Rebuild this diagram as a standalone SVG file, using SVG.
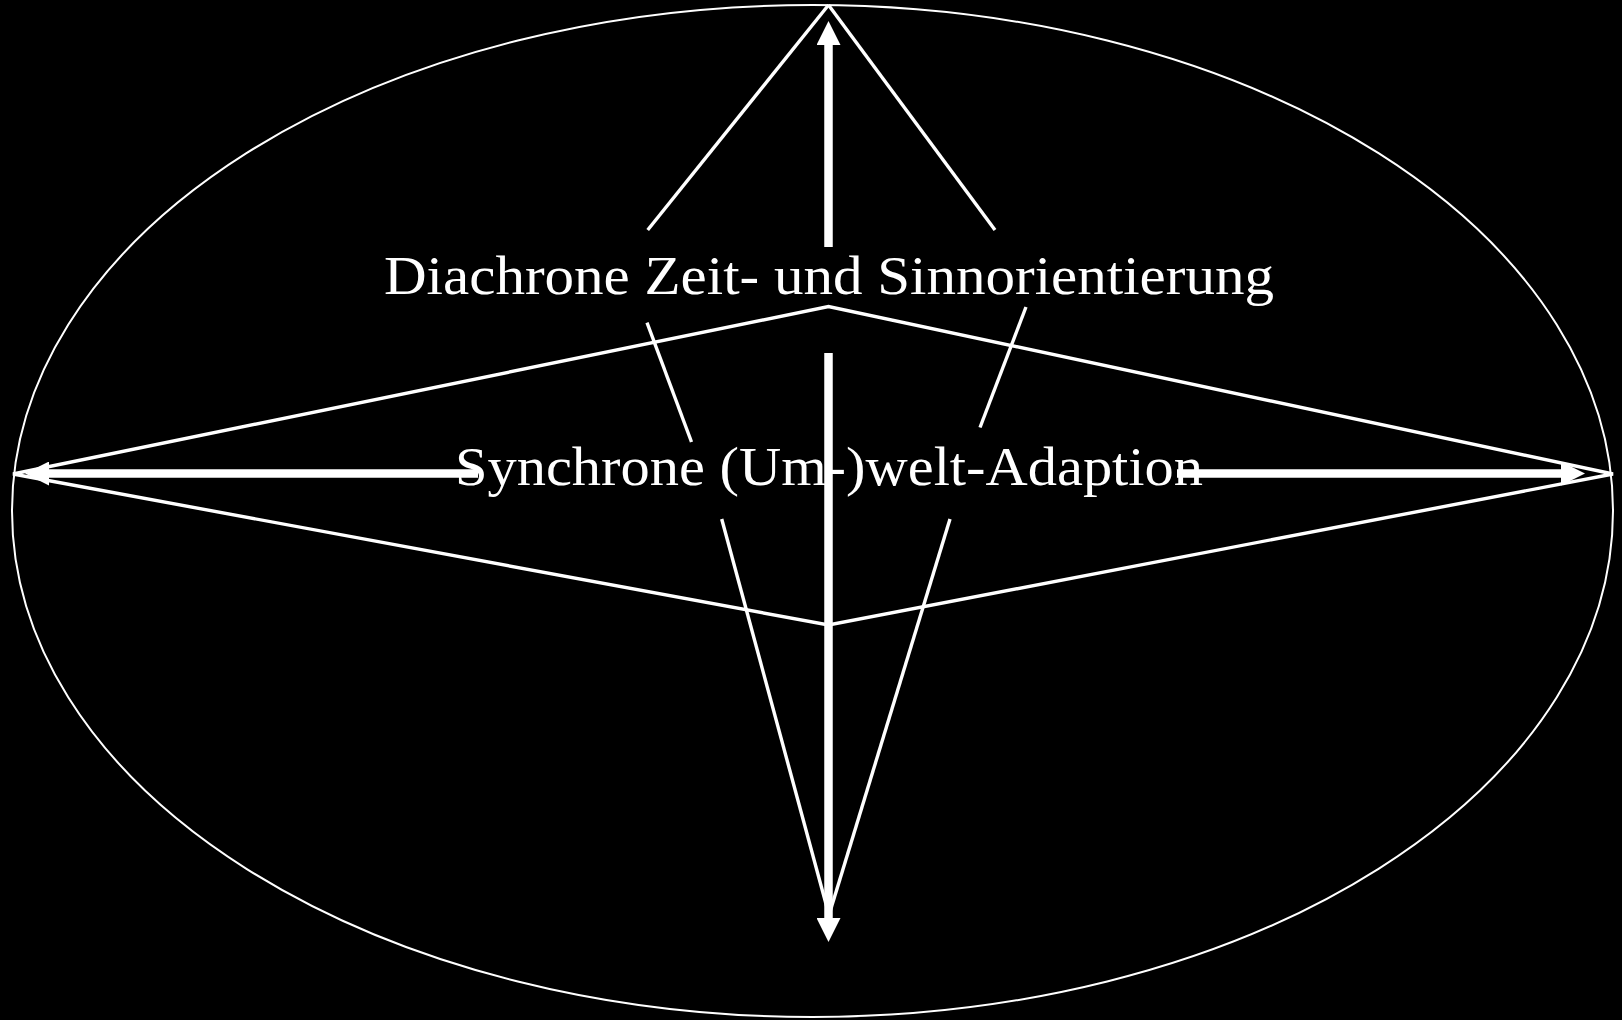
<svg xmlns="http://www.w3.org/2000/svg" width="1622" height="1020" viewBox="0 0 1622 1020">
  <style>
    .thin { fill: none; stroke: #ffffff; stroke-width: 2; }
    .line { fill: none; stroke: #ffffff; stroke-width: 3.4; stroke-linecap: butt; }
    .shaft { fill: none; stroke: #ffffff; stroke-width: 8.5; }
    .label { fill: #ffffff; font-family: "Liberation Serif", "DejaVu Serif", serif; font-size: 55px; }
  </style>
  <defs>
    <marker id="head" markerUnits="userSpaceOnUse" markerWidth="24" markerHeight="24" viewBox="0 0 24 24" refX="0" refY="12" orient="auto">
      <path d="M0,0 L24,12 L0,24 Z" fill="#ffffff"/>
    </marker>
  </defs>
  <rect x="0" y="0" width="1622" height="1020" fill="#000000"/>

  <g id="ellipse">
    <ellipse class="thin" cx="812.5" cy="511" rx="800.5" ry="506"/>
  </g>

  <g id="diamond">
    <polygon class="line" points="13,474 828.5,306.5 1613,474 828.5,625"/>
  </g>

  <g id="label-diachron">
    <text class="label" x="384" y="294" textLength="890" lengthAdjust="spacingAndGlyphs">Diachrone Zeit- und Sinnorientierung</text>
  </g>

  <g id="label-synchron">
    <text class="label" x="455" y="485" textLength="748" lengthAdjust="spacingAndGlyphs">Synchrone (Um-)welt-Adaption</text>
  </g>

  <g id="connectors">
    <line class="line" x1="828.5" y1="5" x2="647.7" y2="230"/>
    <line class="line" x1="828.5" y1="5" x2="995" y2="230"/>
    <line class="line" x1="647" y1="322.7" x2="691.5" y2="442"/>
    <line class="line" x1="1026" y1="307" x2="980" y2="427.5"/>
    <line class="line" x1="721.7" y1="519" x2="829" y2="915"/>
    <line class="line" x1="950" y1="519" x2="829" y2="915"/>

    <line class="shaft" x1="828.5" y1="247" x2="828.5" y2="45" marker-end="url(#head)"/>
    <line class="shaft" x1="828.5" y1="353" x2="828.5" y2="918" marker-end="url(#head)"/>
    <line class="shaft" x1="478" y1="473.5" x2="49" y2="473.5" marker-end="url(#head)"/>
    <line class="shaft" x1="1177" y1="473.5" x2="1561" y2="473.5" marker-end="url(#head)"/>
  </g>
</svg>
